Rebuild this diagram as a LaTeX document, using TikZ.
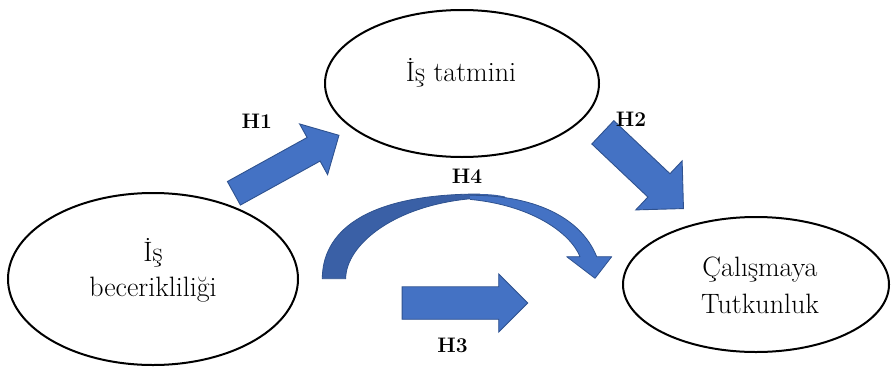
\documentclass[tikz,border=0pt]{standalone}
\usetikzlibrary{shapes.geometric,shapes.arrows}
\definecolor{arrowfill}{HTML}{4472C4}
\definecolor{arrowline}{HTML}{2F528F}
\definecolor{arrowback}{HTML}{3A60A6}

\begin{document}
\begin{tikzpicture}[x=1pt,y=-1pt,
  construct/.style={ellipse, draw=black, line width=2pt, inner sep=0pt},
  nodetext/.style={font=\fontsize{28}{30}\selectfont, inner sep=0pt, anchor=base},
  hyplabel/.style={font=\fontsize{21}{23}\selectfont\bfseries, inner sep=0pt},
  blockarrow/.style={single arrow, fill=arrowfill, draw=arrowline, line width=0.9pt,
    inner xsep=0pt, anchor=tail, single arrow tip angle=90},
  bendedge/.style={draw=arrowline, line width=0.8pt, line join=round},
]
\useasboundingbox (0,0) rectangle (891,367);

% constructs
\node[construct, minimum width=274pt, minimum height=147pt] (sat) at (462,83.5) {};
\node[construct, minimum width=290pt, minimum height=172pt] (skill) at (153,279) {};
\node[construct, minimum width=266pt, minimum height=135pt] (eng) at (756,284.5) {};

\node[nodetext] (satA) at (461,81.7) {İş tatmini};
\node[nodetext] (skillA) at (153,261.7) {İş};
\node[nodetext] (skillB) at (153,296.7) {becerikliliği};
\node[nodetext] (engA) at (760,276) {Çalışmaya};
\node[nodetext] (engB) at (760,313.3) {Tutkunluk};

% straight block arrows (shaft width = 2 x inner ysep)
\node[blockarrow, minimum height=120pt, inner ysep=13pt,
      single arrow head extend=15.5pt, rotate=28.9] (h1arrow) at (233.5,193.5) {};
\node[blockarrow, minimum height=111pt, inner ysep=15.6pt,
      single arrow head extend=17.7pt, rotate=-43.4] (h2arrow) at (602.5,132) {};
\node[blockarrow, minimum height=125.6pt, inner ysep=15.8pt,
      single arrow head extend=12.8pt] (h3arrow) at (401.7,303) {};

% curved arrow: darker back band
\fill[arrowback] (322.3,278.7) .. controls (322.3,235) and (360,194) .. (480,194)
  .. controls (490,194) and (498,195) .. (505,196.5)
  -- (505,200.5) .. controls (497,199.5) and (488,198) .. (480,198)
  .. controls (395,203) and (345.7,245) .. (345.7,278.7) -- cycle;
\path[bendedge] (480,194) .. controls (360,194) and (322.3,235) .. (322.3,278.7)
  -- (345.7,278.7) .. controls (345.7,245) and (395,203) .. (480,198);
% curved arrow: front band with head
\fill[arrowfill] (470,195.3) .. controls (530,195) and (580,215) .. (596.7,256.7)
  -- (611.7,256.7) -- (595,278.3) -- (566.7,256.7) -- (580,256.7)
  .. controls (570,232) and (530,205) .. (470,199.4) -- cycle;
\path[bendedge] (470,195.3) .. controls (530,195) and (580,215) .. (596.7,256.7)
  -- (611.7,256.7) -- (595,278.3) -- (566.7,256.7) -- (580,256.7)
  .. controls (570,232) and (530,205) .. (470,199.4);

% hypothesis labels
\node[hyplabel] (H1) at (256.7,120.8) {H1};
\node[hyplabel] (H2) at (631,119) {H2};
\node[hyplabel] (H3) at (452.5,345.8) {H3};
\node[hyplabel] (H4) at (467,175.8) {H4};
\end{tikzpicture}
\end{document}
